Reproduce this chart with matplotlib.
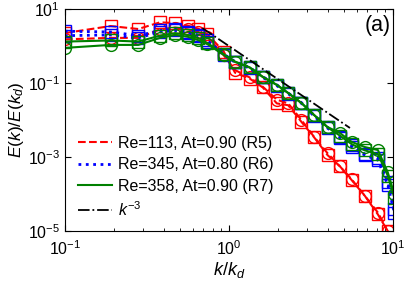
import numpy as np
import matplotlib
matplotlib.use("Agg")
import matplotlib.pyplot as plt
from matplotlib.ticker import LogLocator, LogFormatterMathtext, NullFormatter, NullLocator

plt.rcParams['font.family'] = ['Liberation Sans', 'DejaVu Sans']
plt.rcParams['mathtext.fontset'] = 'custom'
plt.rcParams['mathtext.rm'] = 'Liberation Sans'
plt.rcParams['mathtext.it'] = 'Liberation Sans:italic'
plt.rcParams['mathtext.bf'] = 'Liberation Sans:bold'

# wavenumber grid k/k_d
k = [0.1, 0.19, 0.28, 0.38, 0.47, 0.56, 0.65, 0.74, 0.93, 1.09, 1.34, 1.61,
     1.96, 2.3, 2.77, 3.3, 4.0, 4.75, 5.6, 6.75, 8.1, 9.3, 10.2]

# log10 of E(k)/E(k_d)
r5_sq = [0.35, 0.54, 0.46, 0.64, 0.62, 0.55, 0.47, 0.32, -0.15, -0.72, -0.88, -1.12,
         -1.55, -1.60, -2.05, -2.46, -2.95, -3.25, -3.62, -4.05, -4.55, -5.0, -5.4]
r5_ci = [0.18, 0.22, 0.22, 0.45, 0.50, 0.45, 0.38, 0.25, -0.25, -0.65, -0.85, -1.10,
         -1.45, -1.55, -2.00, -2.45, -2.90, -3.25, -3.60, -4.05, -4.50, -5.0, -5.4]
r6_a = [0.40, 0.38, 0.28, 0.42, 0.45, 0.38, 0.30, 0.15, -0.22, -0.42, -0.58, -0.83,
        -1.05, -1.27, -1.53, -1.87, -2.20, -2.45, -2.68, -2.92, -3.03, -3.68, -4.4]
r6_b = [0.28, 0.30, 0.22, 0.38, 0.42, 0.36, 0.28, 0.12, -0.24, -0.44, -0.60, -0.85,
        -1.07, -1.29, -1.55, -1.89, -2.22, -2.48, -2.72, -2.95, -3.08, -3.75, -4.5]
r7_sq = [0.12, 0.15, 0.12, 0.28, 0.35, 0.30, 0.22, 0.08, -0.22, -0.42, -0.58, -0.83,
         -1.05, -1.27, -1.54, -1.86, -2.20, -2.42, -2.65, -2.82, -2.92, -3.50, -4.1]
r7_ci = [-0.05, 0.03, 0.03, 0.22, 0.30, 0.25, 0.16, 0.05, -0.24, -0.43, -0.58, -0.84,
         -1.05, -1.27, -1.54, -1.86, -2.19, -2.35, -2.59, -2.73, -2.81, -3.41, -4.0]

k3_k = [0.69, 5.47]

labels = ['Re=113, At=0.90 (R5)', 'Re=345, At=0.80 (R6)', 'Re=358, At=0.90 (R7)', '$k^{-3}$']

fig = plt.figure(figsize=(4.08, 2.86), dpi=100)
ax = fig.add_axes([0.159, 0.192, 0.804, 0.7765])

kk = np.array(k)
def E(v):
    return 10.0 ** np.array(v)

ms = 8.5
mew = 1.0
ax.plot(kk, E(r5_sq), color='#ff0000', ls='--', lw=1.5, marker='s', ms=ms, mfc='none', mew=mew)
ax.plot(kk, E(r5_ci), color='#ff0000', ls='--', lw=1.5, marker='o', ms=ms, mfc='none', mew=mew)
ax.plot(kk, E(r6_a), color='#0000ff', ls=':', lw=2.0, marker='s', ms=ms, mfc='none', mew=mew)
ax.plot(kk, E(r6_b), color='#0000ff', ls=':', lw=2.0, marker='s', ms=ms, mfc='none', mew=mew)
ax.plot(kk, E(r7_sq), color='#008000', ls='-', lw=1.5, marker='s', ms=ms, mfc='none', mew=mew)
ax.plot(kk, E(r7_ci), color='#008000', ls='-', lw=1.5, marker='o', ms=ms, mfc='none', mew=mew)
k3 = np.array(k3_k)
ax.plot(k3, k3 ** -3.0, color='black', ls='-.', lw=1.3)

# legend proxies
h1, = ax.plot([], [], color='#ff0000', ls='--', lw=1.5)
h2, = ax.plot([], [], color='#0000ff', ls=':', lw=2.0)
h3, = ax.plot([], [], color='#008000', ls='-', lw=1.5)
h4, = ax.plot([], [], color='black', ls='-.', lw=1.3)
ax.legend([h1, h2, h3, h4], labels, loc='lower left', bbox_to_anchor=(0.04, 0.055),
          frameon=False, fontsize=11.5, handlelength=2.1, handletextpad=0.4,
          labelspacing=0.4, borderaxespad=0, borderpad=0)

ax.set_xscale('log')
ax.set_yscale('log')
ax.set_xlim(0.1, 10)
ax.set_ylim(1e-5, 10)
ax.set_xticks([0.1, 1, 10])
ax.xaxis.set_minor_locator(LogLocator(base=10, subs=np.arange(2, 10)))
ax.xaxis.set_minor_formatter(NullFormatter())
ax.set_yticks([1e1, 1e-1, 1e-3, 1e-5])
ax.yaxis.set_minor_locator(NullLocator())
ax.xaxis.set_major_formatter(LogFormatterMathtext())
ax.yaxis.set_major_formatter(LogFormatterMathtext())
ax.tick_params(which='both', direction='in', top=True, right=True, labelsize=11.5)
ax.tick_params(axis='x', which='major', pad=6)
ax.tick_params(which='major', length=4)
ax.tick_params(which='minor', length=2.5)

ax.set_xlabel('$k/k_d$', fontsize=13, labelpad=1)
ax.set_ylabel('$E(k)/E(k_d)$', fontsize=12.5, labelpad=1)
ax.text(0.994, 0.975, '(a)', transform=ax.transAxes, ha='right', va='top', fontsize=15.5)

fig.savefig('out.png', dpi=100)
